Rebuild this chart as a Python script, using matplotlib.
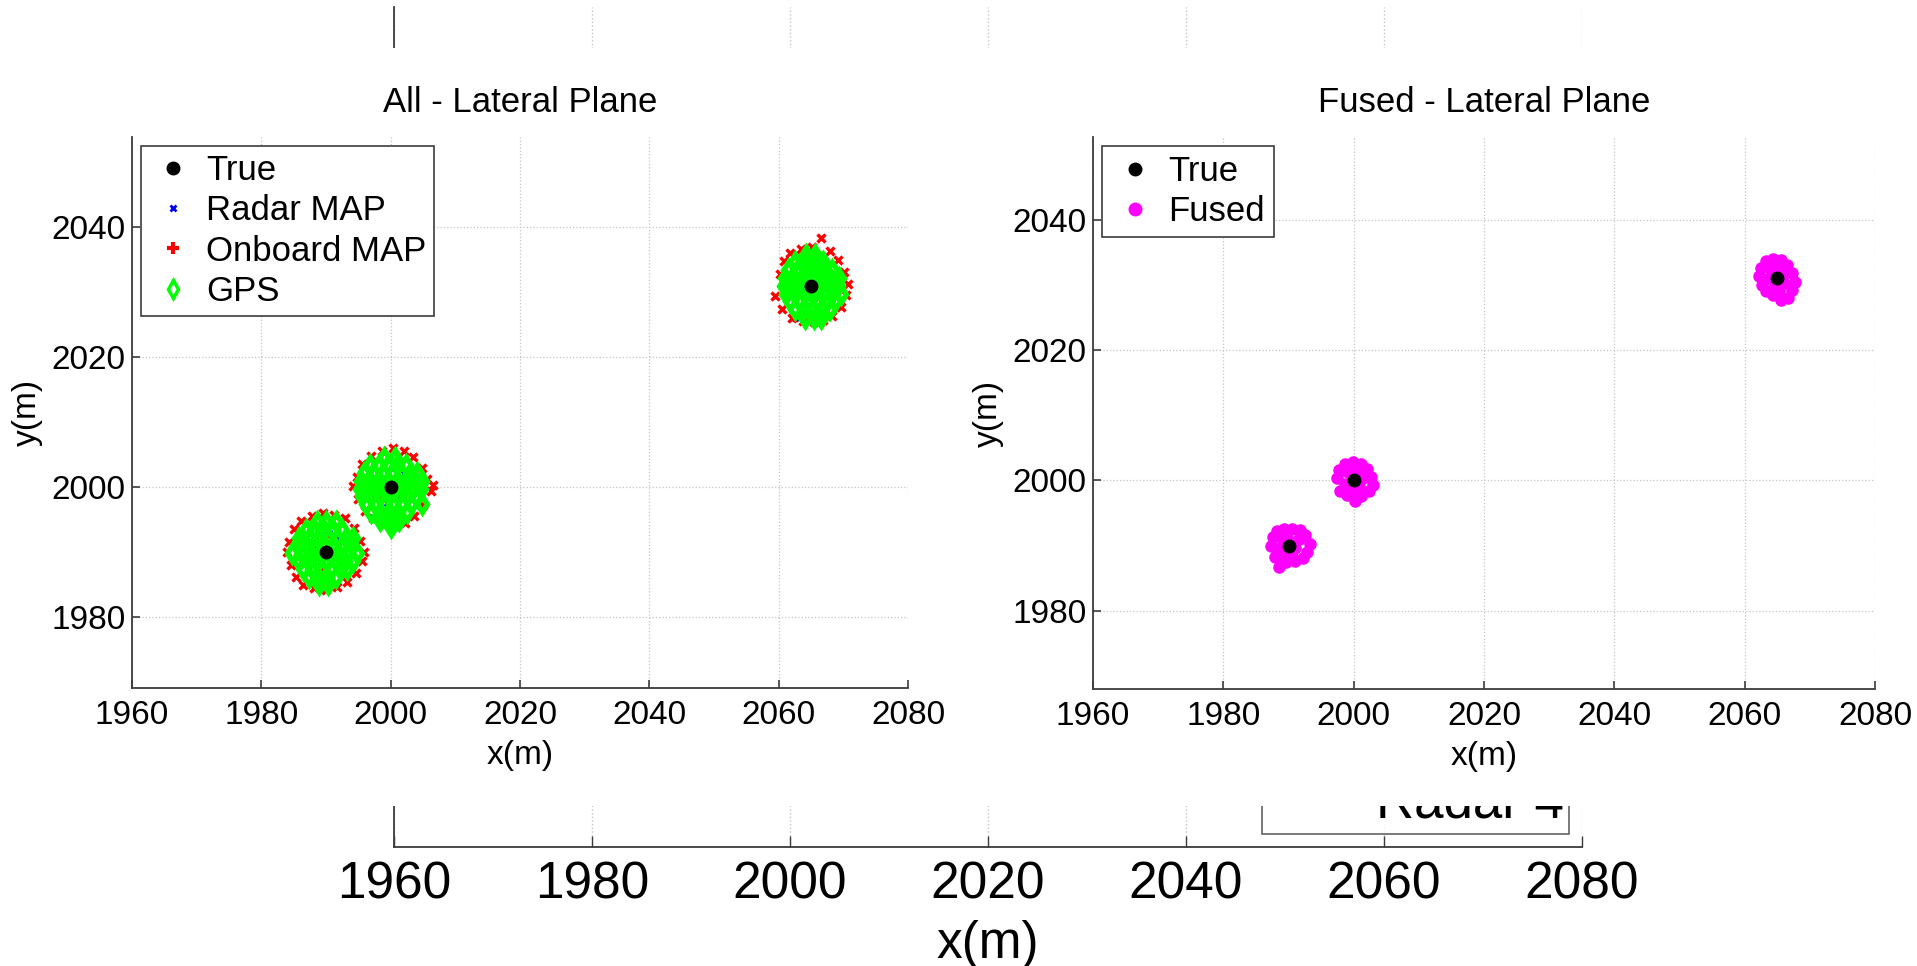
import matplotlib
matplotlib.use('Agg')
import matplotlib.pyplot as plt
from matplotlib.lines import Line2D
from matplotlib.patches import Rectangle

plt.rcParams['font.family'] = ['Liberation Sans', 'DejaVu Sans']

# ---------------- data ----------------
x_ticks = [1960, 1980, 2000, 2020, 2040, 2060, 2080]
y_ticks = [1980, 2000, 2020, 2040]

true_x = [1990, 2000, 2065]
true_y = [1990, 2000, 2031]

radar_x = [1988, 1991, 1992, 1989.5, 1987.5, 1990.5,
           1998, 2001, 2002, 1999.5, 1997.5, 2000.5,
           2063, 2066, 2067, 2064.5, 2062.5, 2065.5]
radar_y = [1991, 1988.5, 1992, 1987, 1989, 1993,
           2001, 1998.5, 2002, 1997, 1999, 2003,
           2032, 2029.5, 2033, 2028, 2026.0, 2034]

onboard_x = [1984.3, 1984.6, 1985.0, 1985.3, 1986.2, 1986.5, 1987.8, 1988.2, 1989.5, 1990.0, 1991.2,
             1991.7, 1993.0, 1993.2, 1994.3, 1994.7, 1995.2, 1995.5, 1995.8, 1984.0, 1989.0, 1991.0,
             1994.8, 1995.0, 1995.6, 1996.0, 1997.0, 1997.2, 1998.6, 1998.9, 2000.3, 2000.5, 2002.0,
             2002.2, 2003.5, 2003.6, 2004.8, 2005.0, 2005.6, 2006.2, 2006.6, 1994.2, 2001.0, 1999.0,
             2059.4, 2060.2, 2060.5, 2060.8, 2061.8, 2062.0, 2063.4, 2063.7, 2065.2, 2065.5, 2066.6,
             2066.8, 2067.9, 2068.2, 2069.2, 2069.6, 2070.1, 2070.4, 2070.7, 2064.0, 2066.0, 2064.5]
onboard_y = [1991.5, 1988.0, 1993.5, 1986.2, 1994.8, 1985.0, 1995.6, 1984.5, 1996.0, 1984.2, 1995.7,
             1984.6, 1995.2, 1985.4, 1993.8, 1986.8, 1991.8, 1988.6, 1990.0, 1990.0, 1987.0, 1992.0,
             2001.5, 1998.2, 2003.5, 1996.3, 2004.8, 1995.2, 2005.6, 1994.4, 2006.0, 1994.0, 2005.5,
             1994.5, 2004.6, 1995.6, 2003.0, 1997.3, 2001.2, 1999.4, 2000.3, 2000.2, 2001.0, 1998.0,
             2029.5, 2032.8, 2027.5, 2034.8, 2036.0, 2026.0, 2036.6, 2025.6, 2036.9, 2025.4, 2038.3,
             2025.8, 2036.4, 2026.4, 2035.0, 2027.8, 2033.2, 2029.6, 2031.3, 2030.0, 2032.0, 2033.0]

gps_x = [1988.6, 1990.0, 1991.5,
         1986.9, 1988.3, 1989.7, 1991.1, 1992.5,
         1985.9, 1987.3, 1988.8, 1990.3, 1991.7, 1993.1, 1994.2,
         1985.6, 1987.0, 1988.4, 1989.8, 1991.2, 1992.6, 1994.0,
         1984.7, 1986.2, 1987.6, 1989.0, 1990.5, 1991.9, 1993.3, 1994.8,
         1985.9, 1987.3, 1988.7, 1990.1, 1991.5, 1992.9, 1994.1,
         1986.5, 1987.9, 1989.3, 1990.7, 1992.1, 1993.3,
         1987.4, 1988.8, 1990.2, 1991.6,
         1988.9, 1990.3,
         1999.0, 2000.6,
         1996.8, 1998.2, 1999.6, 2001.0, 2002.4,
         1995.9, 1997.3, 1998.8, 2000.2, 2001.6, 2003.0, 2004.1,
         1995.4, 1996.8, 1998.2, 1999.6, 2001.0, 2002.4, 2003.8, 2004.9,
         1995.2, 1996.5, 1997.9, 1999.3, 2000.7, 2002.1, 2003.5, 2004.7,
         1995.5, 1996.9, 1998.3, 1999.7, 2001.1, 2002.5, 2003.9,
         1996.2, 1997.6, 1999.0, 2000.4, 2001.8, 2003.2, 2004.8,
         1997.0, 1998.4, 1999.8, 2001.2, 2002.5,
         1998.3, 1999.9, 2001.3,
         2000.1,
         2064.3, 2065.6,
         2062.6, 2064.0, 2065.4, 2066.8,
         2061.4, 2062.8, 2064.2, 2065.6, 2067.0, 2068.2,
         2061.0, 2062.4, 2063.8, 2065.2, 2066.6, 2068.0, 2069.3,
         2060.9, 2062.2, 2063.6, 2065.0, 2066.4, 2067.8, 2069.1,
         2061.2, 2062.6, 2064.0, 2065.4, 2066.8, 2068.2, 2069.6,
         2061.8, 2063.2, 2064.6, 2066.0, 2067.4, 2068.7,
         2062.5, 2063.9, 2065.3, 2066.7, 2068.0,
         2064.0, 2065.4, 2066.6]
gps_y = [1994.6, 1994.6, 1994.6,
         1993.4, 1993.4, 1993.4, 1993.4, 1993.4,
         1992.2, 1992.2, 1992.2, 1992.2, 1992.2, 1992.2, 1992.2,
         1991.0, 1991.0, 1991.0, 1991.0, 1991.0, 1991.0, 1991.0,
         1989.8, 1989.8, 1989.8, 1989.8, 1989.8, 1989.8, 1989.8, 1989.8,
         1988.6, 1988.6, 1988.6, 1988.6, 1988.6, 1988.6, 1988.6,
         1987.4, 1987.4, 1987.4, 1987.4, 1987.4, 1987.4,
         1986.2, 1986.2, 1986.2, 1986.2,
         1985.1, 1985.1,
         2004.5, 2004.5,
         2003.4, 2003.4, 2003.4, 2003.4, 2003.4,
         2002.2, 2002.2, 2002.2, 2002.2, 2002.2, 2002.2, 2002.2,
         2001.0, 2001.0, 2001.0, 2001.0, 2001.0, 2001.0, 2001.0, 2001.0,
         1999.8, 1999.8, 1999.8, 1999.8, 1999.8, 1999.8, 1999.8, 1999.8,
         1998.6, 1998.6, 1998.6, 1998.6, 1998.6, 1998.6, 1998.6,
         1997.4, 1997.4, 1997.4, 1997.4, 1997.4, 1997.4, 1997.4,
         1996.2, 1996.2, 1996.2, 1996.2, 1996.2,
         1995.0, 1995.0, 1995.0,
         1993.9,
         2035.7, 2035.7,
         2034.6, 2034.6, 2034.6, 2034.6,
         2033.4, 2033.4, 2033.4, 2033.4, 2033.4, 2033.4,
         2032.2, 2032.2, 2032.2, 2032.2, 2032.2, 2032.2, 2032.2,
         2031.0, 2031.0, 2031.0, 2031.0, 2031.0, 2031.0, 2031.0,
         2029.8, 2029.8, 2029.8, 2029.8, 2029.8, 2029.8, 2029.8,
         2028.6, 2028.6, 2028.6, 2028.6, 2028.6, 2028.6,
         2027.4, 2027.4, 2027.4, 2027.4, 2027.4,
         2026.1, 2026.1, 2026.1]

fused_x = [1987.3, 1987.6, 1988.2, 1989.3, 1990.6, 1991.7, 1992.5, 1993.3, 1992.8, 1992.2, 1991.0,
           1989.6, 1988.5, 1987.9, 1988.6, 1989.9, 1991.0, 1990.2, 1989.0, 1991.6, 1990.6, 1988.9,
           1997.5, 1997.8, 1998.6, 1999.9, 2001.1, 2002.0, 2002.6, 2003.0, 2002.3, 2001.1,
           2000.2, 1999.0, 1997.9, 1998.7, 1999.8, 2000.8, 2001.5, 1999.1, 2000.6, 1999.8,
           2062.2, 2062.5, 2063.3, 2064.4, 2065.5, 2066.5, 2067.2, 2067.8, 2067.3, 2066.7, 2065.6,
           2064.3, 2063.2, 2062.6, 2063.8, 2065.0, 2066.0, 2064.6, 2063.9, 2066.3, 2065.3]
fused_y = [1990.0, 1991.3, 1992.2, 1992.6, 1992.5, 1992.4, 1991.6, 1990.3, 1989.0, 1988.1, 1987.6,
           1987.5, 1986.7, 1988.3, 1989.6, 1990.8, 1989.6, 1989.0, 1991.2, 1991.0, 1988.3, 1988.6,
           2000.3, 2001.6, 2002.5, 2002.9, 2002.6, 2001.7, 2000.6, 1999.3, 1998.4, 1997.6,
           1996.9, 1997.8, 1998.4, 1999.5, 2000.9, 1999.2, 2000.4, 2001.3, 2001.5, 1998.6,
           2031.3, 2032.6, 2033.6, 2034.0, 2033.8, 2033.0, 2031.8, 2030.4, 2029.2, 2028.0, 2027.7,
           2028.4, 2029.0, 2030.0, 2031.0, 2032.3, 2030.3, 2029.8, 2032.6, 2032.0, 2029.0]

bg_legend_labels = ['Radar 4']

# ---------------- figure ----------------
W, H = 1917, 966
fig = plt.figure(figsize=(W / 100, H / 100), dpi=100)
AX_COL = '#3c3c3c'
GRID_COL = '#c4c4c4'

# background (partially hidden) axis
ax0 = fig.add_axes([394 / W, 1 - 847 / H, 1188 / W, 840 / H])
ax0.set_zorder(0)
ax0.set_xlim(1960, 2080)
ax0.set_ylim(0, 1)
ax0.set_xticks(x_ticks)
ax0.set_yticks([])
for s in ('top', 'right'):
    ax0.spines[s].set_visible(False)
for s in ('left', 'bottom'):
    ax0.spines[s].set_color(AX_COL)
    ax0.spines[s].set_linewidth(1.3)
ax0.grid(axis='x', linestyle=':', color=GRID_COL, linewidth=1.0)
ax0.tick_params(axis='x', direction='in', length=8, width=1, color=AX_COL,
                labelsize=37, pad=10)
ax0.set_xlabel('x(m)', fontsize=37, labelpad=7)
bg_handles = [Line2D([], [], color='none') for _ in bg_legend_labels]
leg0 = ax0.legend(bg_handles, bg_legend_labels, loc='lower right',
                  bbox_to_anchor=(1569 / W, 1 - 834 / H), bbox_transform=fig.transFigure,
                  fontsize=38, frameon=True, fancybox=False, borderpad=0.1,
                  handlelength=1.65, handletextpad=0.4, borderaxespad=0)
leg0.get_frame().set_edgecolor(AX_COL)
leg0.get_frame().set_linewidth(1.2)

# white cover band
fig.patches.append(Rectangle((0, 1 - 806 / H), 1, 758 / H, transform=fig.transFigure,
                             facecolor='white', edgecolor='none', zorder=1))

ax1 = fig.add_axes([132 / W, 1 - 688 / H, 776 / W, 551 / H])
ax2 = fig.add_axes([1093 / W, 1 - 689 / H, 782 / W, 552 / H])
ax1.set_ylim(1969.1, 2053.9)
ax2.set_ylim(1968.0, 2052.7)

for ax in (ax1, ax2):
    ax.set_zorder(2)
    ax.set_xlim(1960, 2080)
    ax.set_xticks(x_ticks)
    ax.set_yticks(y_ticks)
    for s in ('top', 'right'):
        ax.spines[s].set_visible(False)
    for s in ('left', 'bottom'):
        ax.spines[s].set_color(AX_COL)
        ax.spines[s].set_linewidth(1.3)
    ax.tick_params(direction='in', length=6, width=1.2, color=AX_COL, labelsize=24, pad=4.5)
    ax.tick_params(axis='x', pad=8.5)
    ax.grid(True, linestyle=':', color=GRID_COL, linewidth=0.9)
    ax.set_axisbelow(True)
    ax.set_xlabel('x(m)', fontsize=24, labelpad=6.5)
    ax.set_ylabel('y(m)', fontsize=24, labelpad=6)

# left subplot
ax1.plot(radar_x, radar_y, ls='none', marker='x', color='blue', markersize=5, mew=1.8)
ax1.plot(onboard_x, onboard_y, ls='none', marker='x', color='red', markersize=6, mew=2.4)
ax1.plot(gps_x, gps_y, ls='none', marker='d', color='#00ff00', mfc='none',
         markersize=8.5, mew=3.8)
ax1.plot(true_x, true_y, ls='none', marker='o', color='black', markersize=9)
ax1.set_title('All - Lateral Plane', fontsize=25, pad=18)

h1 = [Line2D([], [], ls='none', marker='o', color='black', markersize=9),
      Line2D([], [], ls='none', marker='x', color='blue', markersize=5, mew=2),
      Line2D([], [], ls='none', marker='+', color='red', markersize=8, mew=3),
      Line2D([], [], ls='none', marker='d', color='#00ff00', mfc='none', markersize=9, mew=2.5)]
leg1 = ax1.legend(h1, ['True', 'Radar MAP', 'Onboard MAP', 'GPS'], loc='upper left',
                  fontsize=25, fancybox=False, framealpha=1, borderpad=0.22,
                  handlelength=1.4, handletextpad=0.25, labelspacing=0.21, borderaxespad=0.27)
leg1.get_frame().set_edgecolor(AX_COL)
leg1.get_frame().set_linewidth(1.2)

# right subplot
ax2.plot(fused_x, fused_y, ls='none', marker='o', color='magenta', markersize=8)
ax2.plot(true_x, true_y, ls='none', marker='o', color='black', markersize=9)
ax2.set_title('Fused - Lateral Plane', fontsize=25, pad=18)
h2 = [Line2D([], [], ls='none', marker='o', color='black', markersize=9),
      Line2D([], [], ls='none', marker='o', color='magenta', markersize=9)]
leg2 = ax2.legend(h2, ['True', 'Fused'], loc='upper left',
                  fontsize=25, fancybox=False, framealpha=1, borderpad=0.25,
                  handlelength=1.4, handletextpad=0.25, labelspacing=0.2, borderaxespad=0.27)
leg2.get_frame().set_edgecolor(AX_COL)
leg2.get_frame().set_linewidth(1.2)

fig.savefig('out.png', dpi=100)
